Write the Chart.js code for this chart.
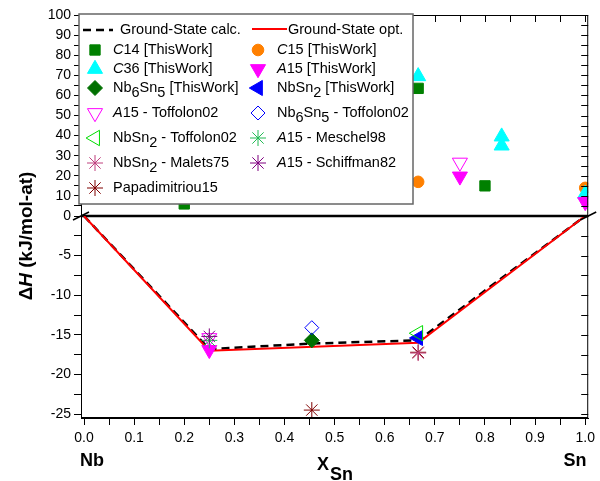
<!DOCTYPE html>
<html>
<head>
<meta charset="utf-8">
<script src="https://cdn.jsdelivr.net/npm/chart.js@4.4.1/dist/chart.umd.min.js"></script>
<style>
  html, body { margin: 0; padding: 0; background: #fff; }
  #wrap { width: 600px; height: 481px; }
</style>
</head>
<body>
<div id="wrap"><canvas id="chart" width="600" height="481"></canvas></div>
<script>
// x = mole fraction of Sn, y = formation enthalpy (kJ/mol-at)
const gsCalcX = [0, 0.25, 0.4545, 0.6667, 1];
const gsCalcY = [0, -16.8, -16.1, -15.7, 0];
const gsOptX = [0, 0.25, 0.6667, 1];
const gsOptY = [0, -17.0, -16.0, 0];

const c14X = [0.2, 0.6667, 0.8];
const c14Y = [6, 63.5, 15];
const c15X = [0.6667, 1.0];
const c15Y = [17, 14];
const c36X = [0.6667, 0.8333, 0.8333, 1.0];
const c36Y = [69.5, 39.5, 35, 11];
const a15X = [0.25, 0.75, 1.0];
const a15Y = [-16.9, 19.7, 7];
const nb6sn5X = [0.4545];
const nb6sn5Y = [-15.7];
const nbsn2X = [0.6667];
const nbsn2Y = [-15.4];
const a15ToffX = [0.25, 0.75];
const a15ToffY = [-15.4, 26.6];
const nb6sn5ToffX = [0.4545];
const nb6sn5ToffY = [-14.1];
const nbsn2ToffX = [0.6667];
const nbsn2ToffY = [-14.8];
const meschelX = [0.25];
const meschelY = [-15.7];
const maletsX = [0.6667];
const maletsY = [-17.3];
const schiffmanX = [0.25];
const schiffmanY = [-15.2];
const papaX = [0.4545, 0.6667];
const papaY = [-24.5, -17.2];

const xTicks = { min: -0.006, max: 1.006, step: 0.05 };
const yTopRange = { min: 0, max: 100, step: 5 };
const yLowRange = { min: -25.5, max: 0, step: 2.5 };

const FONT = '"Liberation Sans", Arial, sans-serif';
const LEG_SIZE = 14.5;

// marker styles
const series = [
  { key: 'c14', x: c14X, y: c14Y, style: 'rect', r: 7.3, color: '#008000', filled: true,
    label: [{ t: 'C', i: true }, { t: '14 [ThisWork]' }] },
  { key: 'c15', x: c15X, y: c15Y, style: 'circle', r: 5.8, color: '#FF8000', filled: true,
    label: [{ t: 'C', i: true }, { t: '15 [ThisWork]' }] },
  { key: 'c36', x: c36X, y: c36Y, style: 'triangle', r: 8.7, color: '#00FFFF', filled: true,
    label: [{ t: 'C', i: true }, { t: '36 [ThisWork]' }] },
  { key: 'a15', x: a15X, y: a15Y, style: 'triangle', rot: 180, r: 8.7, color: '#FF00FF', filled: true,
    label: [{ t: 'A', i: true }, { t: '15 [ThisWork]' }] },
  { key: 'nb6sn5', x: nb6sn5X, y: nb6sn5Y, style: 'rectRot', r: 7.5, color: '#007000', filled: true,
    label: [{ t: 'Nb' }, { t: '6', sub: true }, { t: 'Sn' }, { t: '5', sub: true }, { t: ' [ThisWork]' }] },
  { key: 'nbsn2', x: nbsn2X, y: nbsn2Y, style: 'triangle', rot: 270, r: 8.7, color: '#0000FF', filled: true,
    label: [{ t: 'NbSn' }, { t: '2', sub: true }, { t: ' [ThisWork]' }] },
  { key: 'a15toff', x: a15ToffX, y: a15ToffY, style: 'triangle', rot: 180, r: 8.7, color: '#FF00FF', filled: false,
    label: [{ t: 'A', i: true }, { t: '15 - Toffolon02' }] },
  { key: 'nb6sn5toff', x: nb6sn5ToffX, y: nb6sn5ToffY, style: 'rectRot', r: 7, color: '#0000FF', filled: false,
    label: [{ t: 'Nb' }, { t: '6', sub: true }, { t: 'Sn' }, { t: '5', sub: true }, { t: ' - Toffolon02' }] },
  { key: 'nbsn2toff', x: nbsn2ToffX, y: nbsn2ToffY, style: 'triangle', rot: 270, r: 8.9, color: '#00DD00', filled: false,
    label: [{ t: 'NbSn' }, { t: '2', sub: true }, { t: ' - Toffolon02' }] },
  { key: 'meschel', x: meschelX, y: meschelY, style: 'star', r: 8, color: '#22BB55', filled: false,
    label: [{ t: 'A', i: true }, { t: '15 - Meschel98' }] },
  { key: 'malets', x: maletsX, y: maletsY, style: 'star', r: 8, color: '#C0407F', filled: false,
    label: [{ t: 'NbSn' }, { t: '2', sub: true }, { t: ' - Malets75' }] },
  { key: 'schiffman', x: schiffmanX, y: schiffmanY, style: 'star', r: 8, color: '#800080', filled: false,
    label: [{ t: 'A', i: true }, { t: '15 - Schiffman82' }] },
  { key: 'papa', x: papaX, y: papaY, style: 'star', r: 8, color: '#800000', filled: false, under: true,
    label: [{ t: 'Papadimitriou15' }] }
];

const toPoints = (xs, ys, keep) => xs.map((x, i) => ({ x, y: ys[i] })).filter(p => keep(p.y));

const datasets = [
  { label: 'Ground-State calc.', data: toPoints(gsCalcX, gsCalcY, () => true), yAxisID: 'yLow',
    showLine: true, borderColor: '#000', borderWidth: 2.5, borderDash: [8, 5], pointRadius: 0, order: 100 },
  { label: 'Ground-State opt.', data: toPoints(gsOptX, gsOptY, () => true), yAxisID: 'yLow',
    showLine: true, borderColor: '#FF0000', borderWidth: 2, pointRadius: 0, order: 99 }
];
series.forEach((s, i) => {
  const common = {
    label: s.key, showLine: false, pointStyle: s.style, pointRadius: s.r, pointRotation: s.rot || 0,
    borderColor: s.color, backgroundColor: s.filled ? s.color : 'rgba(0,0,0,0)',
    pointBorderWidth: 1, order: s.under ? 60 : 50 - i
  };
  const top = toPoints(s.x, s.y, v => v > 0);
  const low = toPoints(s.x, s.y, v => v <= 0);
  if (top.length) datasets.push(Object.assign({}, common, { data: top, yAxisID: 'yTop' }));
  if (low.length) datasets.push(Object.assign({}, common, { data: low, yAxisID: 'yLow' }));
});

function drawRich(ctx, segs, x, y, size, bold, align) {
  const fontFor = s => (s.i ? 'italic ' : '') + (bold ? 'bold ' : '') + size + 'px ' + FONT;
  let total = 0;
  segs.forEach(s => { ctx.font = fontFor(s); total += ctx.measureText(s.t).width; });
  let cx = align === 'center' ? x - total / 2 : x;
  ctx.textAlign = 'left';
  segs.forEach(s => {
    ctx.font = fontFor(s);
    ctx.fillText(s.t, cx, y + (s.sub ? size * 0.35 : 0));
    cx += ctx.measureText(s.t).width;
  });
}

function drawMarker(ctx, s, x, y) {
  ctx.save();
  ctx.fillStyle = s.filled ? s.color : 'rgba(0,0,0,0)';
  ctx.strokeStyle = s.color;
  ctx.lineWidth = 1;
  Chart.helpers.drawPoint(ctx, { pointStyle: s.style, radius: s.r, rotation: s.rot || 0, borderWidth: 1 }, x, y);
  ctx.restore();
}

// legend layout
const legendRows = [30, 50, 69, 88, 113, 138, 163, 188];
const legendCols = [{ sym: 95, txt: 113 }, { sym: 258, txt: 277 }];

const decor = {
  id: 'decor',
  beforeDatasetsDraw(chart) {
    const { ctx, chartArea: a, scales } = chart;
    const y0 = scales.yLow.getPixelForValue(0);
    ctx.save();
    ctx.strokeStyle = '#000';
    ctx.lineWidth = 2.5;
    ctx.beginPath();
    ctx.moveTo(a.left, y0);
    ctx.lineTo(a.right, y0);
    ctx.stroke();
    ctx.restore();
  },
  afterDatasetsDraw(chart) {
    const { ctx, chartArea: a, scales } = chart;
    ctx.save();
    // frame
    ctx.strokeStyle = '#000';
    ctx.lineWidth = 1;
    ctx.strokeRect(a.left + 0.5, a.top + 0.5, a.right - a.left - 1, a.bottom - a.top - 1);
    // inward ticks on top and right
    ctx.beginPath();
    scales.x.ticks.forEach(t => {
      const px = Math.round(scales.x.getPixelForValue(t.value)) + 0.5;
      ctx.moveTo(px, a.top);
      ctx.lineTo(px, a.top + 7);
    });
    [scales.yTop, scales.yLow].forEach(sc => sc.ticks.forEach(t => {
      const py = Math.round(sc.getPixelForValue(t.value)) + 0.5;
      ctx.moveTo(a.right, py);
      ctx.lineTo(a.right - 7, py);
    }));
    ctx.stroke();
    // axis break marks
    const y0 = scales.yLow.getPixelForValue(0);
    ctx.lineWidth = 1.5;
    ctx.beginPath();
    [a.left, a.right].forEach(px => {
      ctx.moveTo(px - 8, y0 + 4);
      ctx.lineTo(px + 8, y0 - 4);
    });
    ctx.stroke();

    // legend box
    ctx.fillStyle = '#fff';
    ctx.fillRect(79, 14, 334, 190);
    ctx.strokeStyle = '#666';
    ctx.lineWidth = 1.5;
    ctx.strokeRect(79, 14, 334, 190);

    ctx.fillStyle = '#000';
    ctx.textBaseline = 'middle';
    ctx.lineWidth = 2.5;
    ctx.strokeStyle = '#000';
    ctx.setLineDash([8, 5]);
    ctx.beginPath();
    ctx.moveTo(83, legendRows[0]);
    ctx.lineTo(113, legendRows[0]);
    ctx.stroke();
    ctx.setLineDash([]);
    ctx.lineWidth = 2;
    ctx.strokeStyle = '#FF0000';
    ctx.beginPath();
    ctx.moveTo(252, legendRows[0] - 1);
    ctx.lineTo(287, legendRows[0] - 1);
    ctx.stroke();
    ctx.fillStyle = '#000';
    drawRich(ctx, [{ t: 'Ground-State calc.' }], 120, legendRows[0], LEG_SIZE, false);
    drawRich(ctx, [{ t: 'Ground-State opt.' }], 288, legendRows[0], LEG_SIZE, false);

    series.forEach((s, i) => {
      const row = legendRows[1 + Math.floor(i / 2)];
      const col = legendCols[i % 2];
      drawMarker(ctx, s, col.sym, row);
      ctx.fillStyle = '#000';
      drawRich(ctx, s.label, col.txt, row, LEG_SIZE, false);
    });
    ctx.restore();
  },
  afterDraw(chart) {
    const { ctx } = chart;
    ctx.save();
    ctx.fillStyle = '#000';
    // y title
    ctx.translate(27, 236);
    ctx.rotate(-Math.PI / 2);
    ctx.textBaseline = 'middle';
    drawRich(ctx, [{ t: '\u0394' }, { t: 'H', i: true }, { t: ' (kJ/mol-at)' }], 0, 0, 19, true, 'center');
    ctx.restore();

    ctx.save();
    ctx.fillStyle = '#000';
    ctx.textBaseline = 'alphabetic';
    ctx.textAlign = 'center';
    ctx.font = 'bold 18px ' + FONT;
    ctx.fillText('Nb', 92, 466);
    ctx.fillText('Sn', 575, 466);
    ctx.textAlign = 'left';
    ctx.fillText('X', 317, 470);
    ctx.fillText('Sn', 330, 480);
    ctx.restore();
  }
};

const tickFont = { family: FONT, size: 14 };

new Chart(document.getElementById('chart'), {
  type: 'scatter',
  data: { datasets },
  options: {
    responsive: false,
    animation: false,
    layout: { padding: { top: 15, right: 7, left: 0, bottom: 0 } },
    plugins: { legend: { display: false }, tooltip: { enabled: false } },
    scales: {
      x: {
        type: 'linear', position: 'bottom', min: xTicks.min, max: xTicks.max,
        ticks: {
          stepSize: xTicks.step, includeBounds: false, autoSkip: false, maxRotation: 0,
          font: tickFont, color: '#000', padding: 5,
          callback: v => (Math.round(v * 20) % 2 === 0 ? v.toFixed(1) : '')
        },
        grid: { drawOnChartArea: false, tickLength: 7, color: '#000' },
        border: { color: '#000' },
        afterFit: s => { s.height = 63; }
      },
      yLow: {
        type: 'linear', position: 'left', stack: 'dh', stackWeight: 202,
        min: yLowRange.min, max: yLowRange.max,
        ticks: {
          stepSize: yLowRange.step, includeBounds: false, autoSkip: false,
          font: tickFont, color: '#000', padding: 3,
          callback: v => (Math.round(v * 10) % 50 === 0 ? String(Math.round(v)) : '')
        },
        grid: { drawOnChartArea: false, tickLength: 7, color: '#000' },
        border: { color: '#000' },
        afterFit: s => { s.width = 81; }
      },
      yTop: {
        type: 'linear', position: 'left', stack: 'dh', stackWeight: 201,
        min: yTopRange.min, max: yTopRange.max,
        ticks: {
          stepSize: yTopRange.step, includeBounds: false, autoSkip: false,
          font: tickFont, color: '#000', padding: 3,
          callback: v => (v > 0 && Math.round(v) % 10 === 0 ? String(Math.round(v)) : '')
        },
        grid: { drawOnChartArea: false, tickLength: 7, color: '#000' },
        border: { color: '#000' },
        afterFit: s => { s.width = 81; }
      }
    }
  },
  plugins: [decor]
});
</script>
</body>
</html>
